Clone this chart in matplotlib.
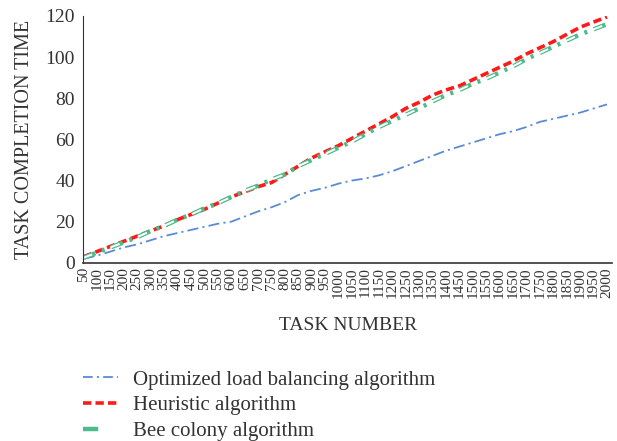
import matplotlib
matplotlib.use('Agg')
import matplotlib.pyplot as plt
from matplotlib.lines import Line2D
from matplotlib.legend_handler import HandlerTuple

plt.rcParams['font.family'] = ['Liberation Serif', 'DejaVu Serif']
plt.rcParams['lines.scale_dashes'] = False

# task numbers 50..2000
tasks = ['50', '100', '150', '200', '250', '300', '350', '400', '450', '500',
         '550', '600', '650', '700', '750', '800', '850', '900', '950', '1000',
         '1050', '1100', '1150', '1200', '1250', '1300', '1350', '1400', '1450', '1500',
         '1550', '1600', '1650', '1700', '1750', '1800', '1850', '1900', '1950', '2000']

optimized = [2, 3.5, 5.5, 7.5, 9, 11, 13, 14.5, 16, 17.5,
             19, 20, 22.5, 25, 27, 29.5, 33, 35, 36.5, 38.5,
             40, 41, 42.5, 44.5, 47, 49.5, 52, 54.5, 56.5, 58.5,
             60.5, 62.5, 64, 66, 68.5, 70, 71.5, 73, 75, 77]

heuristic = [3, 5.5, 8, 10.5, 13, 15.5, 18, 21, 23.5, 26,
             29, 32, 34.5, 37, 39, 43, 47, 51, 54, 57,
             60.5, 64, 67.5, 71, 75, 78, 81.5, 84, 86, 89,
             92, 95, 98, 101.5, 104.5, 107.5, 111, 114.5, 117, 119.5]

bee_colony = [2.5, 5, 7.5, 10, 12.5, 15.5, 18, 21, 23.5, 26.5,
              29, 32, 35, 37.5, 40.5, 43, 47, 50, 53, 56,
              59, 62.5, 66, 69, 72, 75, 78.5, 81.5, 84, 87,
              89.5, 92.5, 95.5, 99, 102, 105, 108, 111, 113.5, 116]

labels = ['Optimized load balancing algorithm', 'Heuristic algorithm', 'Bee colony algorithm']

blue = '#5B8BD6'
red = '#FF1A1A'
green = '#4DBB8A'
text_col = '#333333'

blue_ls = (0, (8, 3, 1.5, 3))
red_ls = (0, (6, 3))
green_ls = (0, (9, 5, 2.2, 5))
white_ls = (0.8, (7.4, 13.8))

fig = plt.figure(figsize=(6.17, 4.41), dpi=100)
ax = fig.add_axes([0.1345, 0.404, 0.858, 0.56])
x = list(range(len(tasks)))

ax.plot(x, optimized, color=blue, lw=1.3, linestyle=blue_ls)
ax.plot(x, heuristic, color=red, lw=2.6, linestyle=red_ls)
ax.plot(x, bee_colony, color=green, lw=3.2, linestyle=green_ls, dash_capstyle='butt')
ax.plot(x, bee_colony, color='white', lw=1.4, linestyle=white_ls, dash_capstyle='butt')

ax.set_xlim(-0.05, 39.4)
ax.set_ylim(0, 120)
ax.set_yticks(range(0, 121, 20))
ax.set_xticks(x)
ax.set_xticklabels(tasks, rotation=90, fontsize=11, color=text_col)
ax.tick_params(axis='y', labelsize=14, colors=text_col, length=0, pad=6)
ax.tick_params(axis='x', length=0, pad=3)
for s in ['top', 'right']:
    ax.spines[s].set_visible(False)
ax.spines['left'].set_color(text_col)
ax.spines['bottom'].set_color(text_col)
ax.spines['bottom'].set_linewidth(1.2)
ax.set_ylabel('TASK COMPLETION TIME', fontsize=14.5, color=text_col, labelpad=8)
ax.set_xlabel('TASK NUMBER', fontsize=14, color=text_col, labelpad=14)

# legend handles: green one is a hollow dash followed by a small dot
h1 = Line2D([], [], color=blue, lw=1.3, linestyle=(0, (7, 3, 1.5, 3)))
h2 = Line2D([], [], color=red, lw=2.6, linestyle=(0, (6, 3)))
h3a = Line2D([], [], color=green, lw=3.2, linestyle=(0, (11, 8, 3, 30)), dash_capstyle='butt')
h3b = Line2D([], [], color='white', lw=1.4, linestyle=(0, (0.8, 0.01, 9.4, 40)), dash_capstyle='butt')
leg = fig.legend([h1, h2, (h3a, h3b)], labels, handler_map={tuple: HandlerTuple(ndivide=None, pad=0)},
                 loc='upper left', bbox_to_anchor=(0.134, 0.161), frameon=False, fontsize=15,
                 handlelength=1.7, labelspacing=0.3, handletextpad=0.7, borderpad=0,
                 borderaxespad=0, labelcolor=text_col)

fig.savefig('out.png', dpi=100)
